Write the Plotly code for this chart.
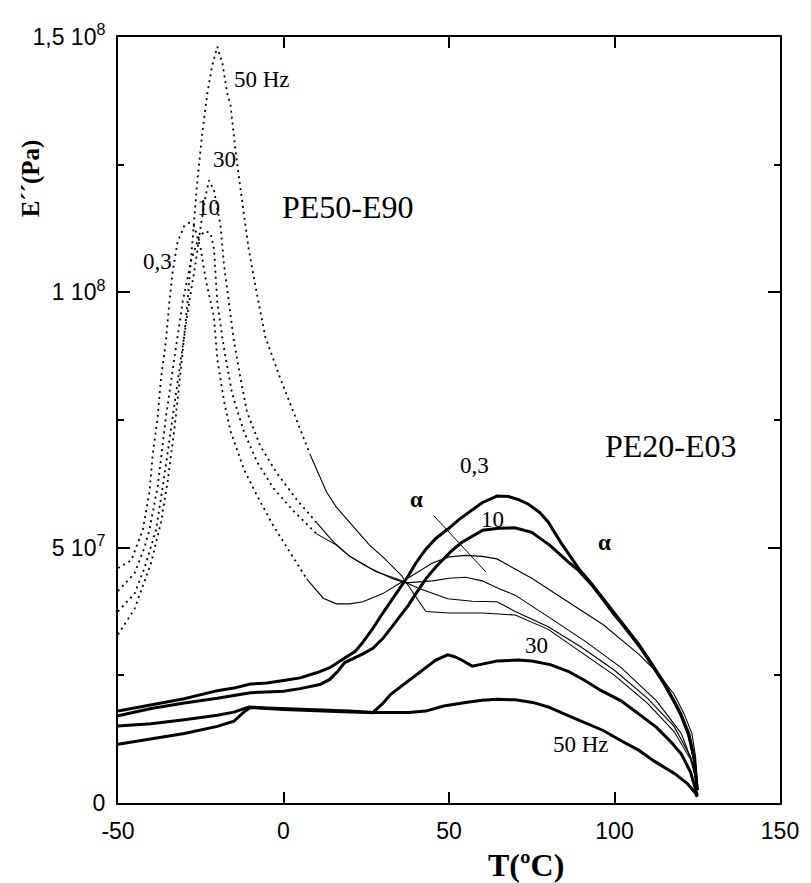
import numpy as np
import plotly.graph_objects as go

SCALE = 1e7  # E'' values below are given in units of 1e7 Pa

# ---------------- PE50-E90 (dotted / thin curves) ----------------
T_A_03 = [-50, -46, -42.5, -40.5, -39.5, -38, -37, -35.5, -34.5, -33.5, -32, -30, -28.5, -27, -25, -23.5,
          -21, -20, -18, -16, -12, -8, -3, 2, 7, 12, 16, 20, 24, 30, 35, 40, 45, 50, 55, 60, 64.5, 75,
          86, 96.6, 107.4, 113, 118, 121, 123.4, 124.5, 125]
E_A_03 = [4.6, 4.75, 5.35, 6.09, 6.83, 7.57, 8.32, 9.06, 9.8, 10.4, 10.99, 11.3, 11.36, 11.3, 10.85, 10.25,
          9.51, 8.69, 7.88, 7.28, 6.54, 6.02, 5.42, 4.90, 4.39, 4.01, 3.90, 3.90, 3.94, 4.1, 4.3, 4.5, 4.7,
          4.82, 4.85, 4.83, 4.78, 4.4, 3.94, 3.49, 2.91, 2.55, 2.13, 1.75, 1.36, 0.9, 0.4]

T_A_10 = [-50, -45, -42, -40.5, -38, -35.5, -33, -30.5, -28, -25.5, -23.5, -22, -21, -20, -18, -15.5, -12,
          -8, -3, 3, 10, 16, 20, 26, 33, 37, 45, 50, 55, 60, 65, 70, 80.6, 91.3, 102, 112.7, 120.2, 124, 125]
E_A_10 = [4.15, 4.5, 5.0, 5.35, 6.2, 7.57, 8.7, 9.8, 10.6, 11.1, 11.2, 11.15, 10.85, 9.8, 8.91, 8.01, 7.28,
          6.68, 6.16, 5.72, 5.27, 5.05, 4.83, 4.60, 4.39, 4.31, 4.35, 4.4, 4.42, 4.35, 4.2, 4.07, 3.62,
          3.16, 2.65, 2.0, 1.36, 0.7, 0.4]

T_A_30 = [-50, -45, -42, -38.5, -36, -33.5, -31, -28.5, -26.5, -25, -23.5, -22.5, -21, -19, -18, -16.5, -15,
          -13, -11, -7, -2, 4, 10, 15, 20, 28, 35, 41, 49.6, 57, 64.5, 70, 80, 90, 100, 110, 118, 123, 125]
E_A_30 = [3.75, 4.1, 4.6, 5.35, 6.4, 7.57, 8.7, 9.8, 10.6, 11.3, 11.9, 12.19, 12.0, 11.3, 10.55, 9.8, 9.06,
          8.32, 7.65, 6.99, 6.46, 5.94, 5.49, 5.12, 4.83, 4.53, 4.37, 4.2, 4.0, 3.95, 3.94, 3.75, 3.45,
          3.05, 2.6, 2.05, 1.5, 0.9, 0.4]

T_A_50 = [-50, -45, -40, -37, -35, -33, -31, -29, -27.5, -26, -24.5, -23, -21.5, -20, -18.5, -17, -16,
          -14.5, -13, -10.5, -8, -5.5, -1, 3, 8, 13, 16, 20, 26, 30.3, 35.6, 41, 43, 50, 60, 70, 80, 90,
          100, 110, 118, 123, 125]
E_A_50 = [3.3, 3.8, 4.7, 5.5, 6.3, 7.3, 8.5, 9.8, 11.0, 12.2, 13.14, 13.9, 14.45, 14.81, 14.5, 13.9, 13.66,
          12.77, 12.03, 10.84, 9.96, 9.13, 8.32, 7.65, 6.83, 6.09, 5.79, 5.49, 5.05, 4.8, 4.46, 3.94,
          3.75, 3.72, 3.72, 3.68, 3.4, 2.95, 2.5, 1.95, 1.4, 0.85, 0.35]

# ---------------- PE20-E03 (thick curves) ----------------
T_B_03 = [-50, -40, -30, -20, -15, -10, -5, 0, 5, 10, 14, 18.5, 21.7, 24, 27, 30, 32.4, 35, 37.8, 40, 43,
          46, 49.6, 53, 56, 60, 64.5, 68, 71, 74, 77.4, 80, 83.8, 86.5, 89.2, 93, 96.6, 100, 102, 105,
          107.4, 110, 112.7, 115, 118, 120, 122.4, 124, 124.5, 125]
E_B_03 = [1.80, 1.92, 2.04, 2.2, 2.25, 2.33, 2.35, 2.4, 2.45, 2.55, 2.65, 2.84, 2.97, 3.15, 3.42, 3.72,
          3.94, 4.2, 4.46, 4.7, 4.97, 5.18, 5.36, 5.55, 5.69, 5.88, 6.01, 6.0, 5.94, 5.85, 5.69, 5.5,
          5.10, 4.85, 4.59, 4.3, 4.0, 3.7, 3.55, 3.3, 3.1, 2.85, 2.58, 2.35, 2.0, 1.75, 1.36, 0.9, 0.6,
          0.25]

T_B_10 = [-50, -40, -30, -20, -10, 0, 5, 11, 14, 16.4, 18.5, 21.7, 24, 27, 30, 32.4, 35, 37.8, 40, 43,
          46, 48.4, 51, 53.8, 57, 60.2, 65, 69.9, 75, 80.6, 83, 86, 89.2, 93, 96.6, 100, 102, 105,
          107.4, 110, 112.7, 115, 118, 120, 122.4, 124, 124.5, 125]
E_B_10 = [1.71, 1.85, 1.96, 2.05, 2.16, 2.19, 2.24, 2.32, 2.42, 2.58, 2.75, 2.84, 2.92, 3.03, 3.22, 3.42,
          3.65, 3.88, 4.1, 4.39, 4.62, 4.78, 4.95, 5.10, 5.22, 5.34, 5.38, 5.39, 5.3, 5.04, 4.9, 4.72,
          4.55, 4.28, 3.98, 3.68, 3.53, 3.28, 3.08, 2.83, 2.56, 2.33, 1.98, 1.73, 1.34, 0.88, 0.58, 0.25]

T_B_30 = [-50, -40, -30, -20, -15, -12, -10.4, -5, 0, 10, 20, 27, 30, 32.4, 35, 37.8, 40, 43.1, 46, 49.6,
          51.5, 53.8, 57, 60, 64.5, 71, 75, 80.6, 86, 91.3, 96, 102, 107, 112.7, 117, 120.2, 123, 124.5,
          125]
E_B_30 = [1.51, 1.55, 1.63, 1.72, 1.78, 1.85, 1.88, 1.86, 1.85, 1.83, 1.80, 1.77, 1.95, 2.13, 2.26, 2.39,
          2.5, 2.65, 2.8, 2.90, 2.87, 2.80, 2.68, 2.72, 2.78, 2.80, 2.78, 2.71, 2.58, 2.39, 2.2, 2.0,
          1.75, 1.48, 1.2, 0.96, 0.6, 0.25, 0.15]

T_B_50 = [-50, -40, -30, -20, -15, -12, -10, 0, 10, 20, 27, 37.8, 43, 48.4, 55, 60, 64.5, 70, 75.3, 80,
          86, 91, 96.6, 102, 107.4, 112, 118.1, 122, 124.5, 125]
E_B_50 = [1.15, 1.25, 1.36, 1.5, 1.6, 1.78, 1.87, 1.83, 1.80, 1.78, 1.77, 1.77, 1.80, 1.90, 1.97, 2.01,
          2.03, 2.02, 1.97, 1.88, 1.71, 1.58, 1.42, 1.22, 1.03, 0.82, 0.58, 0.38, 0.19, 0.12]

# ---------------- axes ----------------
X_TICKS = [-50, 0, 50, 100, 150]
Y_TICKVALS = [0, 5e7, 1e8, 1.5e8]
Y_TICKTEXT = ["0", "5 10<sup>7</sup>", "1 10<sup>8</sup>", "1,5 10<sup>8</sup>"]

# ---------------- labels (text, T, E/1e7) ----------------
LABELS = [
    ("50 Hz", -15.6, 14.17, "left", False),
    ("30", -17.9, 12.6, "center", False),
    ("10", -22.6, 11.67, "center", False),
    ("0,3", -38.2, 10.6, "center", False),
    ("PE50-E90", 19.6, 11.68, "center", False),
    ("PE20-E03", 117.0, 7.0, "center", False),
    ("0,3", 57.6, 6.6, "center", False),
    ("α", 40.3, 5.94, "center", True),
    ("10", 63.0, 5.55, "center", False),
    ("α", 96.9, 5.10, "center", True),
    ("30", 76.5, 3.09, "center", False),
    ("50 Hz", 90.0, 1.145, "center", False),
]
ALPHA_LINE_T = [45.35, 61.2]
ALPHA_LINE_E = [5.63, 4.52]

fig = go.Figure()

SPLIT_T = 5.0
for T, E in [(T_A_03, E_A_03), (T_A_10, E_A_10), (T_A_30, E_A_30), (T_A_50, E_A_50)]:
    T = np.asarray(T, float)
    E = np.asarray(E, float) * SCALE
    i = int(np.searchsorted(T, SPLIT_T))
    fig.add_trace(go.Scatter(x=T[:i + 1], y=E[:i + 1], mode="lines",
                             line=dict(color="black", width=1.8, dash="2px,4px"),
                             showlegend=False, hoverinfo="skip"))
    fig.add_trace(go.Scatter(x=T[i:], y=E[i:], mode="lines",
                             line=dict(color="black", width=1.1),
                             showlegend=False, hoverinfo="skip"))

for T, E in [(T_B_03, E_B_03), (T_B_10, E_B_10), (T_B_30, E_B_30), (T_B_50, E_B_50)]:
    fig.add_trace(go.Scatter(x=T, y=np.asarray(E, float) * SCALE, mode="lines",
                             line=dict(color="black", width=3),
                             showlegend=False, hoverinfo="skip"))

fig.add_shape(type="line", xref="x", yref="y",
              x0=ALPHA_LINE_T[0], y0=ALPHA_LINE_E[0] * SCALE,
              x1=ALPHA_LINE_T[1], y1=ALPHA_LINE_E[1] * SCALE,
              line=dict(color="black", width=1))

for text, t, e, anchor, bold in LABELS:
    big = text.startswith("PE")
    fig.add_annotation(x=t, y=e * SCALE, xref="x", yref="y", text=f"<b>{text}</b>" if bold else text,
                       showarrow=False, xanchor=anchor, yanchor="middle",
                       font=dict(family="Liberation Serif", size=32 if big else 23, color="black"))

fig.add_annotation(xref="paper", yref="paper", x=0.616, y=-0.0815, text="<b>T(ºC)</b>",
                   showarrow=False, xanchor="center", yanchor="middle",
                   font=dict(family="Liberation Serif", size=32, color="black"))
fig.add_annotation(xref="paper", yref="paper", x=-0.132, y=0.815, text="<b>E´´(Pa)</b>",
                   showarrow=False, xanchor="center", yanchor="middle", textangle=-90,
                   font=dict(family="Liberation Serif", size=25, color="black"))

axis_common = dict(showline=True, linecolor="black", linewidth=2, mirror="ticks",
                   ticks="inside", tickcolor="black", tickwidth=1.5, showgrid=False, zeroline=False,
                   tickfont=dict(family="Liberation Sans", size=23, color="black"))

fig.update_xaxes(range=[-50, 150], tickvals=X_TICKS, ticktext=[str(v) for v in X_TICKS],
                 ticklen=11, ticklabelstandoff=6, **axis_common)
fig.update_yaxes(range=[0, 1.5e8], tickvals=Y_TICKVALS, ticktext=Y_TICKTEXT,
                 ticklen=12, ticklabelstandoff=6,
                 minor=dict(dtick=2.5e7, ticklen=6, ticks="inside", tickcolor="black", tickwidth=1.5),
                 **axis_common)

# the page body adds an 8 px margin, so the figure is 8 px smaller than the window
fig.update_layout(width=803, height=875, margin=dict(l=110, r=26, t=22, b=80),
                  plot_bgcolor="white", paper_bgcolor="white")

fig.write_html("out.html")
